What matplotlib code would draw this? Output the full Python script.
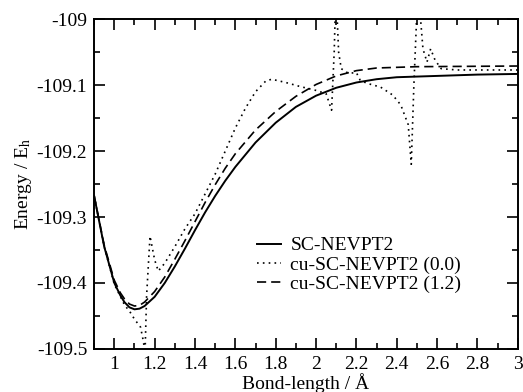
import numpy as np
from matplotlib import pyplot as plt
from matplotlib.ticker import MultipleLocator, FuncFormatter

plt.rcParams['font.family'] = ['Liberation Serif', 'DejaVu Serif']
plt.rcParams['mathtext.fontset'] = 'stix'
plt.rcParams['axes.unicode_minus'] = False

# SC-NEVPT2
x_sc = [0.9, 0.95, 1.0, 1.03, 1.05, 1.075, 1.1, 1.125, 1.15, 1.2, 1.25, 1.3,
        1.35, 1.4, 1.45, 1.5, 1.55, 1.6, 1.7, 1.8, 1.9, 2.0, 2.1, 2.2, 2.3,
        2.4, 2.6, 2.8, 3.0]
e_sc = [-109.268, -109.345, -109.400, -109.419, -109.429, -109.437, -109.440,
        -109.439, -109.435, -109.421, -109.400, -109.375, -109.348, -109.320,
        -109.293, -109.268, -109.245, -109.224, -109.187, -109.157, -109.133,
        -109.116, -109.104, -109.096, -109.091, -109.088, -109.086, -109.084,
        -109.083]

# cu-SC-NEVPT2 (1.2)
x_cu12 = [0.9, 0.95, 1.0, 1.03, 1.05, 1.075, 1.1, 1.125, 1.15, 1.2, 1.25, 1.3,
          1.35, 1.4, 1.45, 1.5, 1.55, 1.6, 1.7, 1.8, 1.9, 2.0, 2.1, 2.2, 2.3,
          2.5, 3.0]
e_cu12 = [-109.268, -109.343, -109.396, -109.415, -109.424, -109.432, -109.435,
          -109.434, -109.429, -109.413, -109.391, -109.364, -109.336, -109.307,
          -109.278, -109.251, -109.226, -109.204, -109.168, -109.140, -109.117,
          -109.099, -109.086, -109.078, -109.074, -109.072, -109.071]

# cu-SC-NEVPT2 (0.0)
x_cu00 = [0.9, 0.95, 1.0, 1.05, 1.08, 1.1, 1.13, 1.145, 1.152, 1.16, 1.177,
          1.2, 1.218, 1.25, 1.3, 1.35, 1.4, 1.45, 1.5, 1.55, 1.6, 1.65, 1.7,
          1.75, 1.78, 1.85, 1.92, 2.0, 2.05, 2.077, 2.09, 2.097, 2.105, 2.112,
          2.125, 2.16, 2.2, 2.218, 2.25, 2.32, 2.38, 2.42, 2.457, 2.472, 2.485,
          2.505, 2.53, 2.55, 2.568, 2.59, 2.62, 2.7, 3.0]
e_cu00 = [-109.268, -109.345, -109.402, -109.433, -109.445, -109.455, -109.467,
          -109.490, -109.510, -109.420, -109.329, -109.365, -109.382, -109.370,
          -109.345, -109.318, -109.295, -109.265, -109.235, -109.200, -109.165,
          -109.135, -109.110, -109.094, -109.091, -109.096, -109.102, -109.108,
          -109.113, -109.138, -109.050, -108.970, -109.000, -109.050, -109.075,
          -109.082, -109.081, -109.092, -109.097, -109.103, -109.115, -109.130,
          -109.160, -109.220, -109.100, -108.950, -109.045, -109.065, -109.045,
          -109.062, -109.075, -109.077, -109.077]

fig = plt.figure(figsize=(5.23, 3.92), dpi=100)
ax = fig.add_axes([0.180, 0.110, 0.810, 0.841])

ax.plot(x_sc, e_sc, color='black', lw=1.4, ls='-', label='SC-NEVPT2')
ax.plot(x_cu00, e_cu00, color='black', lw=1.2, ls=(0, (1, 2.5)),
        label='cu-SC-NEVPT2 (0.0)')
ax.plot(x_cu12, e_cu12, color='black', lw=1.2, ls=(0, (5.5, 3)),
        label='cu-SC-NEVPT2 (1.2)')

ax.set_xlim(0.9, 3.0)
ax.set_ylim(-109.5, -109.0)

ax.xaxis.set_major_locator(MultipleLocator(0.2))
ax.xaxis.set_minor_locator(MultipleLocator(0.1))
ax.yaxis.set_major_locator(MultipleLocator(0.1))
ax.yaxis.set_minor_locator(MultipleLocator(0.05))
ax.xaxis.set_major_formatter(FuncFormatter(lambda v, p: '%g' % round(v, 3)))
ax.yaxis.set_major_formatter(FuncFormatter(lambda v, p: '%g' % round(v, 3)))

ax.tick_params(which='both', direction='in', top=True, right=True,
               labelsize=14, width=1.2, pad=5)
ax.tick_params(which='major', length=8)
ax.tick_params(which='minor', length=4.5)
for s in ax.spines.values():
    s.set_linewidth(1.4)

ax.set_xlabel('Bond-length / Å', fontsize=14, labelpad=0)
ax.set_ylabel('Energy / E$_\\mathrm{h}$', fontsize=14, labelpad=2)

ax.legend(loc='upper left', bbox_to_anchor=(0.385, 0.34), frameon=False,
          fontsize=14, handlelength=1.2, handletextpad=0.5, labelspacing=0.08,
          borderpad=0, borderaxespad=0)

fig.savefig('out.png', dpi=100)
